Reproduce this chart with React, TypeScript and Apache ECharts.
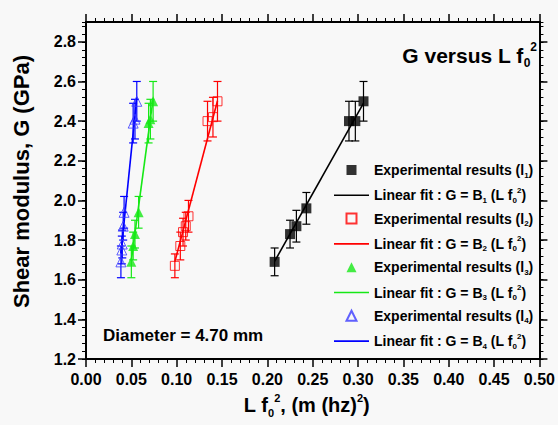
import React, { useEffect, useRef } from "react";
import * as echarts from "echarts";

// ---- data ----
const x1 = [0.208, 0.225, 0.232, 0.243, 0.290, 0.297, 0.306];
const y1 = [1.69, 1.83, 1.87, 1.96, 2.40, 2.40, 2.50];
const e1 = [0.07, 0.07, 0.08, 0.08, 0.10, 0.10, 0.10];

const x2 = [0.098, 0.104, 0.107, 0.110, 0.113, 0.134, 0.140, 0.145];
const y2 = [1.67, 1.77, 1.84, 1.87, 1.92, 2.40, 2.42, 2.50];
const e2 = [0.06, 0.07, 0.07, 0.07, 0.08, 0.10, 0.10, 0.10];

const x3 = [0.050, 0.052, 0.054, 0.058, 0.069, 0.071, 0.074];
const y3 = [1.69, 1.77, 1.83, 1.94, 2.39, 2.41, 2.50];
const e3 = [0.08, 0.07, 0.07, 0.08, 0.10, 0.10, 0.10];

const x4 = [0.0385, 0.0395, 0.040, 0.041, 0.042, 0.052, 0.054, 0.056];
const y4 = [1.69, 1.75, 1.78, 1.87, 1.94, 2.39, 2.41, 2.50];
const e4 = [0.08, 0.07, 0.07, 0.07, 0.08, 0.10, 0.10, 0.10];

const yTickValues = [1.2, 1.4, 1.6, 1.8, 2.0, 2.2, 2.4, 2.6, 2.8];
const xLabelDigits = 2;

const COLORS = ["#000000", "#ff0000", "#16e816", "#0000ff"];
const FONT = "'Liberation Sans', Arial, sans-serif";

type Set = { x: number[]; y: number[]; e: number[] };
const sets: Set[] = [
  { x: x1, y: y1, e: e1 },
  { x: x2, y: y2, e: e2 },
  { x: x3, y: y3, e: e3 },
  { x: x4, y: y4, e: e4 },
];

// least-squares fit through origin: G = B * (L f0^2)
function fitSlope(s: Set) {
  let sxy = 0, sxx = 0;
  s.x.forEach((x, i) => { sxy += x * s.y[i]; sxx += x * x; });
  return sxy / sxx;
}

const SQUARE = "path://M0,0H10V10H0Z";
const SQUARE_SM = "path://M0,0H8V8H0Z";
const TRI = "path://M5,0L10,10H0Z";
const LINE = "path://M0,0H35V1.6H0Z";

export default function App() {
  const ref = useRef<HTMLDivElement>(null);
  useEffect(() => {
    if (!ref.current) return;
    const chart = echarts.init(ref.current, null, { renderer: "svg" });

    const series: any[] = [];
    sets.forEach((s, k) => {
      const color = COLORS[k];
      series.push({
        type: "custom",
        name: "err" + (k + 1),
        z: 2,
        data: s.x.map((x, i) => [x, s.y[i], s.e[i]]),
        renderItem: (params: any, api: any) => {
          const x = api.value(0), y = api.value(1), e = api.value(2);
          const t = api.coord([x, y + e]);
          const b = api.coord([x, y - e]);
          const w = 4;
          const st = { stroke: color, lineWidth: 1.2 };
          return {
            type: "group",
            children: [
              { type: "line", shape: { x1: t[0], y1: t[1], x2: b[0], y2: b[1] }, style: st },
              { type: "line", shape: { x1: t[0] - w, y1: t[1], x2: t[0] + w, y2: t[1] }, style: st },
              { type: "line", shape: { x1: b[0] - w, y1: b[1], x2: b[0] + w, y2: b[1] }, style: st },
            ],
          };
        },
      });
      const B = fitSlope(s);
      const xmin = Math.min(...s.x), xmax = Math.max(...s.x);
      series.push({
        type: "line",
        name: "f" + (k + 1),
        z: 3,
        symbol: "none",
        data: [[xmin, B * xmin], [xmax, B * xmax]],
        lineStyle: { color, width: 1.6 },
        itemStyle: { color },
      });
    });
    const markerDefs = [
      { symbol: "rect", size: 10, filled: true },
      { symbol: "rect", size: 9, filled: false },
      { symbol: "triangle", size: 10, filled: true },
      { symbol: "triangle", size: 10, filled: false },
    ];
    sets.forEach((s, k) => {
      const m = markerDefs[k];
      const color = k === 3 ? "#3a3aff" : COLORS[k];
      series.push({
        type: "scatter",
        name: "e" + (k + 1),
        z: 4,
        symbol: m.symbol,
        symbolSize: m.size,
        data: s.x.map((x, i) => [x, s.y[i]]),
        itemStyle: m.filled
          ? { color }
          : { color: "rgba(0,0,0,0)", borderColor: color, borderWidth: 1 },
      });
    });

    const tickFont = { fontSize: 16, fontWeight: "bold", color: "#000", fontFamily: FONT };
    const axisLine = { show: true, onZero: false, lineStyle: { color: "#000", width: 2 } };

    const xBase = {
      type: "value",
      min: 0,
      max: 0.5,
      interval: 0.05,
      axisLine,
      axisTick: { show: true, inside: false, length: 8, lineStyle: { color: "#000", width: 1.5 } },
      minorTick: { show: true, splitNumber: 5, length: 4, lineStyle: { color: "#000", width: 1 } },
      splitLine: { show: false },
      minorSplitLine: { show: false },
    };
    const yMajor = {
      type: "value",
      min: 1.2,
      max: 2.9,
      interval: 0.2,
      axisLine,
      axisTick: { show: true, inside: false, length: 8, customValues: yTickValues, lineStyle: { color: "#000", width: 1.5 } },
      splitLine: { show: false },
    };
    const yMinor = {
      type: "value",
      min: 1.2,
      max: 2.9,
      interval: 0.04,
      axisLine,
      axisTick: { show: true, inside: false, length: 4, lineStyle: { color: "#000", width: 1 } },
      axisLabel: { show: false },
      splitLine: { show: false },
    };

    const richBase = {
      t: { fontSize: 14, fontWeight: "bold", fontFamily: FONT, color: "#000", lineHeight: 18, verticalAlign: "middle" },
      s: { fontSize: 8, fontWeight: "bold", fontFamily: FONT, color: "#000", lineHeight: 8, verticalAlign: "bottom" },
      p: { fontSize: 8, fontWeight: "bold", fontFamily: FONT, color: "#000", lineHeight: 8, verticalAlign: "top" },
    };

    chart.setOption({
      animation: false,
      backgroundColor: "#f8f8f8",
      grid: { left: 86, top: 22, right: 18, bottom: 66, containLabel: false },
      xAxis: [
        {
          ...xBase,
          position: "bottom",
          axisLabel: { ...tickFont, margin: 12, formatter: (v: number) => v.toFixed(xLabelDigits) },
          name: "{t|L f}{s|0}{p|2}{t|, (m (hz)}{p|2}{t|)}",
          nameLocation: "middle",
          nameGap: 33,
          nameTextStyle: {
            padding: [0, 12, 0, 0],
            rich: {
              t: { fontSize: 20, fontWeight: "bold", fontFamily: FONT, color: "#000", lineHeight: 26, verticalAlign: "middle" },
              s: { fontSize: 11, fontWeight: "bold", fontFamily: FONT, color: "#000", lineHeight: 11, verticalAlign: "bottom" },
              p: { fontSize: 11, fontWeight: "bold", fontFamily: FONT, color: "#000", lineHeight: 11, verticalAlign: "top" },
            },
          },
        },
        { ...xBase, position: "top", axisLabel: { show: false } },
      ],
      yAxis: [
        {
          ...yMajor,
          position: "left",
          axisLabel: {
            ...tickFont,
            margin: 10,
            customValues: yTickValues,
            formatter: (v: number) => (yTickValues.some((t) => Math.abs(t - v) < 1e-6) ? v.toFixed(1) : ""),
          },
          name: "Shear modulus, G (GPa)",
          nameLocation: "middle",
          nameGap: 54,
          nameTextStyle: { fontSize: 22, fontWeight: "bold", fontFamily: FONT, color: "#000", padding: [0, 0, 0, 18] },
        },
        { ...yMinor, position: "left" },
        { ...yMajor, position: "right", axisLabel: { show: false } },
        { ...yMinor, position: "right" },
      ],
      legend: {
        orient: "vertical",
        left: 334,
        top: 163,
        padding: 0,
        itemWidth: 35,
        itemHeight: 10,
        itemGap: 7.3,
        selectedMode: false,
        symbolKeepAspect: true,
        data: [
          { name: "e1", icon: SQUARE },
          { name: "f1", icon: LINE },
          { name: "e2", icon: SQUARE_SM },
          { name: "f2", icon: LINE },
          { name: "e3", icon: TRI },
          { name: "f3", icon: LINE },
          { name: "e4", icon: TRI },
          { name: "f4", icon: LINE },
        ],
        formatter: (name: string) => {
          const n = name.slice(1);
          return name[0] === "e"
            ? `{t|Experimental results (l}{s|${n}}{t|)}`
            : `{t|Linear fit : G = B}{s|${n}}{t| (L f}{s|0}{p|2}{t|)}`;
        },
        textStyle: { rich: richBase },
      },
      graphic: [
        {
          type: "text",
          right: 21,
          top: 41,
          style: {
            text: "{t|G versus L f}{s|0}{p|2}",
            rich: {
              t: { fontSize: 21, fontWeight: "bold", fontFamily: FONT, color: "#000", lineHeight: 28, verticalAlign: "middle" },
              s: { fontSize: 12, fontWeight: "bold", fontFamily: FONT, color: "#000", lineHeight: 12, verticalAlign: "bottom" },
              p: { fontSize: 12, fontWeight: "bold", fontFamily: FONT, color: "#000", lineHeight: 12, verticalAlign: "top" },
            },
          },
        },
        {
          type: "text",
          left: 103,
          top: 327,
          style: { text: "Diameter = 4.70 mm", fontSize: 17, fontWeight: "bold", fontFamily: FONT, fill: "#000" },
        },
      ],
      series,
    });
    return () => chart.dispose();
  }, []);
  return <div ref={ref} style={{ position: "absolute", left: 0, top: 0, width: 558, height: 425 }} />;
}
